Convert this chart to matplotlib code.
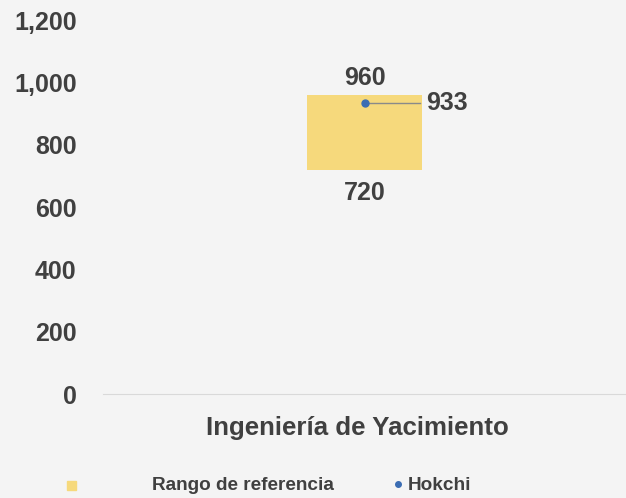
import matplotlib
matplotlib.use("Agg")
import matplotlib.pyplot as plt
from matplotlib.lines import Line2D
from matplotlib.patches import Rectangle

plt.rcParams['font.family'] = ['Liberation Sans', 'DejaVu Sans']
plt.rcParams['font.weight'] = 'bold'

# datos
categorias = ['Ingeniería de Yacimiento']
rango_min = [720]
rango_max = [960]
hokchi = [933]
yticks = [0, 200, 400, 600, 800, 1000, 1200]

txt = '#404040'
amarillo = '#f6d97c'
azul = '#3b6db3'
fondo = '#f4f4f4'

fig = plt.figure(figsize=(6.26, 4.98), dpi=100, facecolor=fondo)
ax = fig.add_axes([103 / 626, 104 / 498, 523 / 626, 374 / 498])
ax.set_facecolor(fondo)

x = list(range(len(categorias)))
alturas = [b - a for a, b in zip(rango_min, rango_max)]
ax.bar(x, alturas, bottom=rango_min, width=0.22, color=amarillo, zorder=2)
ax.plot(x, hokchi, 'o', color=azul, markersize=5, zorder=3)

for xi, lo, hi, h in zip(x, rango_min, rango_max, hokchi):
    ax.annotate(f'{hi:,}', (xi, hi), xytext=(0, 12), textcoords='offset points',
                ha='center', va='center', fontsize=18, color=txt)
    ax.annotate(f'{lo:,}', (xi, lo), xytext=(0, -17), textcoords='offset points',
                ha='center', va='center', fontsize=18, color=txt)
    ax.plot([xi, xi + 0.106], [h, h], color='#8a8a8a', lw=1, zorder=2)
    ax.text(xi + 0.117, h, f'{h:,}', ha='left', va='center', fontsize=18, color=txt)

ax.set_xlim(-0.5, 0.5)
ax.set_ylim(0, 1200)
ax.set_yticks(yticks)
ax.set_yticklabels([f'{v:,}' for v in yticks], fontsize=18, color=txt)
ax.tick_params(axis='y', length=0, pad=19)
ax.set_xticks([])
for s in ['top', 'right', 'left']:
    ax.spines[s].set_visible(False)
ax.spines['bottom'].set_color('#d9d9d9')

fig.text(357 / 626, 1 - 428 / 498, categorias[0], ha='center', va='center',
         fontsize=18.6, color=txt)

# leyenda
fig.patches.append(Rectangle((67 / 626, 1 - 490 / 498), 9 / 626, 9 / 498,
                             transform=fig.transFigure, color=amarillo))
fig.text(152 / 626, 1 - 485 / 498, 'Rango de referencia', ha='left', va='center',
         fontsize=13.7, color=txt)
fig.lines.append(Line2D([398 / 626], [1 - 484 / 498], marker='o', markersize=4,
                        color=azul, transform=fig.transFigure))
fig.text(408 / 626, 1 - 485 / 498, 'Hokchi', ha='left', va='center',
         fontsize=13.7, color=txt)

fig.savefig('out.png', dpi=100, facecolor=fondo)
